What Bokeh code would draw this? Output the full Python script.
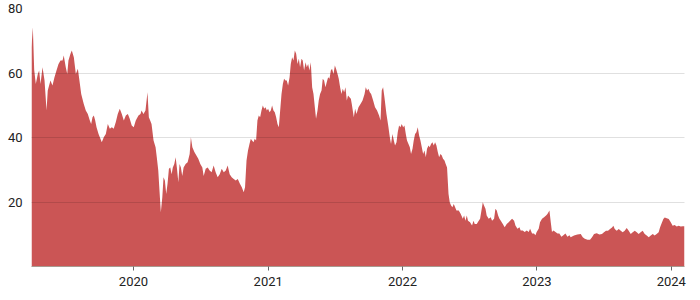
from datetime import datetime
from bokeh.plotting import figure
from bokeh.models import ColumnDataSource, FixedTicker, DatetimeTickFormatter, Range1d
from bokeh.embed import file_html
from bokeh.resources import INLINE

# Dates as decimal years, values as prices
years = [
    2019.241, 2019.251, 2019.261, 2019.273, 2019.288, 2019.298, 2019.308, 2019.323, 2019.338, 2019.353,
    2019.362, 2019.382, 2019.397, 2019.412, 2019.427, 2019.442, 2019.457, 2019.472, 2019.481, 2019.496,
    2019.507, 2019.516, 2019.531, 2019.541, 2019.556, 2019.571, 2019.586, 2019.596, 2019.611, 2019.630,
    2019.645, 2019.660, 2019.675, 2019.685, 2019.695, 2019.705, 2019.715, 2019.725, 2019.740, 2019.754,
    2019.764, 2019.779, 2019.794, 2019.809, 2019.824, 2019.839, 2019.853, 2019.868, 2019.883, 2019.898,
    2019.913, 2019.928, 2019.943, 2019.958, 2019.972, 2019.987, 2020.002, 2020.017, 2020.037, 2020.052,
    2020.060, 2020.074, 2020.089, 2020.104, 2020.114, 2020.124, 2020.134, 2020.149, 2020.164, 2020.173,
    2020.184, 2020.193, 2020.203, 2020.214, 2020.223, 2020.233, 2020.243, 2020.253, 2020.263, 2020.273,
    2020.283, 2020.292, 2020.303, 2020.313, 2020.322, 2020.333, 2020.342, 2020.352, 2020.362, 2020.372,
    2020.387, 2020.402, 2020.417, 2020.426, 2020.437, 2020.452, 2020.467, 2020.481, 2020.496, 2020.511,
    2020.521, 2020.536, 2020.551, 2020.565, 2020.580, 2020.595, 2020.610, 2020.625, 2020.640, 2020.655,
    2020.670, 2020.685, 2020.699, 2020.714, 2020.729, 2020.744, 2020.759, 2020.774, 2020.789, 2020.804,
    2020.818, 2020.828, 2020.839, 2020.850, 2020.861, 2020.871, 2020.880, 2020.891, 2020.900, 2020.910,
    2020.920, 2020.930, 2020.940, 2020.950, 2020.960, 2020.970, 2020.980, 2020.990, 2020.999, 2021.010,
    2021.019, 2021.029, 2021.039, 2021.049, 2021.059, 2021.069, 2021.079, 2021.089, 2021.099, 2021.109,
    2021.118, 2021.129, 2021.138, 2021.148, 2021.159, 2021.168, 2021.178, 2021.188, 2021.198, 2021.208,
    2021.218, 2021.228, 2021.237, 2021.248, 2021.257, 2021.267, 2021.278, 2021.287, 2021.297, 2021.307,
    2021.317, 2021.327, 2021.337, 2021.347, 2021.356, 2021.367, 2021.376, 2021.386, 2021.397, 2021.406,
    2021.416, 2021.426, 2021.436, 2021.446, 2021.456, 2021.466, 2021.475, 2021.486, 2021.496, 2021.505,
    2021.516, 2021.525, 2021.535, 2021.545, 2021.555, 2021.565, 2021.575, 2021.585, 2021.594, 2021.605,
    2021.615, 2021.622, 2021.637, 2021.647, 2021.657, 2021.672, 2021.687, 2021.702, 2021.717, 2021.726,
    2021.736, 2021.746, 2021.756, 2021.766, 2021.781, 2021.795, 2021.810, 2021.825, 2021.836, 2021.845,
    2021.855, 2021.865, 2021.880, 2021.895, 2021.905, 2021.914, 2021.925, 2021.935, 2021.944, 2021.955,
    2021.964, 2021.974, 2021.984, 2021.994, 2022.004, 2022.014, 2022.024, 2022.033, 2022.044, 2022.054,
    2022.063, 2022.074, 2022.083, 2022.093, 2022.103, 2022.113, 2022.123, 2022.133, 2022.143, 2022.153,
    2022.163, 2022.173, 2022.182, 2022.193, 2022.202, 2022.212, 2022.222, 2022.232, 2022.242, 2022.252,
    2022.262, 2022.272, 2022.282, 2022.292, 2022.301, 2022.312, 2022.321, 2022.331, 2022.342, 2022.351,
    2022.361, 2022.371, 2022.381, 2022.391, 2022.401, 2022.418, 2022.433, 2022.448, 2022.458, 2022.468,
    2022.478, 2022.487, 2022.502, 2022.517, 2022.528, 2022.537, 2022.552, 2022.567, 2022.577, 2022.587,
    2022.597, 2022.606, 2022.617, 2022.626, 2022.641, 2022.656, 2022.666, 2022.681, 2022.691, 2022.701,
    2022.711, 2022.721, 2022.731, 2022.746, 2022.760, 2022.775, 2022.790, 2022.800, 2022.815, 2022.830,
    2022.840, 2022.855, 2022.870, 2022.879, 2022.894, 2022.909, 2022.924, 2022.939, 2022.949, 2022.964,
    2022.978, 2022.989, 2022.998, 2023.013, 2023.023, 2023.038, 2023.053, 2023.068, 2023.078, 2023.093,
    2023.103, 2023.112, 2023.123, 2023.138, 2023.153, 2023.167, 2023.182, 2023.197, 2023.212, 2023.227,
    2023.242, 2023.251, 2023.276, 2023.301, 2023.326, 2023.341, 2023.356, 2023.376, 2023.395, 2023.410,
    2023.425, 2023.445, 2023.465, 2023.484, 2023.499, 2023.514, 2023.529, 2023.544, 2023.559, 2023.569,
    2023.579, 2023.594, 2023.609, 2023.624, 2023.638, 2023.653, 2023.668, 2023.683, 2023.698, 2023.713,
    2023.728, 2023.743, 2023.757, 2023.772, 2023.787, 2023.802, 2023.817, 2023.832, 2023.847, 2023.862,
    2023.876, 2023.891, 2023.906, 2023.916, 2023.926, 2023.941, 2023.951, 2023.966, 2023.981, 2023.996,
    2024.010, 2024.025, 2024.040, 2024.055, 2024.070, 2024.085, 2024.098,
]

prices = [
    68.0, 74.2, 61.0, 56.6, 59.7, 60.8, 56.6, 61.8, 57.7, 48.4,
    54.6, 57.7, 56.1, 58.7, 60.8, 62.8, 63.9, 63.9, 65.4, 61.8,
    59.7, 63.9, 66.0, 67.0, 64.9, 59.7, 61.3, 58.2, 53.5, 50.4,
    48.4, 47.3, 45.3, 44.2, 46.3, 46.8, 45.3, 43.2, 41.1, 39.6,
    38.5, 40.1, 41.1, 44.2, 42.7, 43.2, 42.7, 44.7, 47.3, 48.9,
    47.3, 45.3, 46.8, 47.3, 45.8, 43.7, 43.2, 45.3, 46.8, 47.3,
    48.4, 47.3, 48.4, 54.0, 46.3, 45.3, 44.2, 39.1, 37.0, 33.9,
    29.8, 23.6, 16.8, 21.5, 27.7, 26.7, 22.5, 25.7, 30.3, 30.7,
    28.6, 30.7, 31.8, 33.9, 30.7, 26.1, 31.8, 30.7, 28.1, 30.7,
    31.8, 32.3, 34.9, 40.1, 37.0, 35.5, 34.4, 33.4, 31.8, 30.7,
    28.1, 30.3, 30.7, 29.8, 29.2, 31.3, 29.2, 27.7, 28.6, 30.3,
    29.2, 29.8, 31.3, 28.6, 27.7, 27.1, 26.7, 27.1, 25.7, 24.6,
    23.0, 24.6, 32.9, 36.0, 38.0, 39.6, 39.1, 38.5, 39.6, 39.1,
    45.3, 46.8, 46.3, 48.4, 49.9, 48.9, 49.4, 48.4, 48.9, 47.8,
    48.4, 49.9, 48.4, 47.8, 46.3, 44.2, 43.2, 48.4, 53.5, 56.6,
    58.2, 57.7, 57.7, 56.1, 58.7, 62.8, 64.9, 63.9, 67.0, 66.0,
    62.8, 64.4, 61.8, 64.4, 63.9, 60.8, 63.3, 61.8, 62.8, 60.8,
    63.3, 55.6, 53.5, 49.4, 45.8, 48.4, 51.5, 53.5, 54.6, 58.2,
    57.7, 55.6, 57.2, 58.7, 58.2, 60.8, 61.3, 59.7, 62.3, 61.3,
    59.7, 58.2, 55.6, 53.5, 55.1, 54.0, 55.6, 51.5, 53.0, 52.5,
    52.0, 50.4, 46.3, 48.9, 47.3, 49.4, 50.4, 51.5, 53.5, 55.6,
    54.6, 55.1, 54.0, 53.5, 51.5, 49.4, 48.4, 46.8, 45.3, 54.6,
    55.6, 52.5, 47.3, 43.2, 40.1, 38.0, 41.1, 39.1, 37.5, 38.5,
    41.6, 43.7, 43.2, 44.2, 43.2, 43.7, 41.1, 39.1, 38.0, 37.0,
    34.9, 36.5, 39.1, 41.1, 41.6, 43.2, 40.6, 39.1, 37.0, 34.9,
    36.0, 33.9, 36.5, 37.5, 37.0, 38.0, 38.5, 37.5, 38.5, 37.5,
    35.5, 33.9, 34.9, 34.4, 33.4, 32.9, 31.8, 30.7, 22.5, 19.9,
    18.9, 18.4, 19.4, 18.4, 17.4, 17.4, 16.3, 14.8, 15.8, 14.2,
    15.8, 14.2, 13.7, 12.7, 14.2, 13.2, 13.2, 14.2, 14.8, 17.4,
    19.9, 18.9, 17.9, 15.8, 14.8, 15.3, 14.2, 14.8, 17.9, 17.4,
    15.8, 14.8, 14.2, 13.2, 12.2, 13.2, 13.7, 14.2, 14.8, 14.2,
    12.7, 11.7, 12.2, 11.2, 11.2, 10.7, 11.2, 10.7, 11.7, 10.2,
    10.2, 9.7, 10.7, 11.7, 13.7, 14.8, 15.3, 15.8, 16.3, 17.4,
    13.7, 10.7, 11.2, 10.7, 10.2, 10.2, 9.2, 9.7, 10.2, 9.2,
    9.7, 9.1, 9.6, 9.9, 10.1, 9.1, 8.6, 8.3, 8.3, 9.1,
    10.1, 10.3, 9.9, 10.1, 10.6, 11.1, 11.1, 11.6, 12.1, 12.6,
    11.6, 11.1, 11.6, 11.1, 10.6, 11.1, 11.9, 11.1, 10.1, 10.6,
    11.1, 10.6, 10.1, 10.6, 11.1, 10.1, 9.6, 9.1, 9.6, 10.1,
    9.6, 10.1, 10.6, 12.1, 13.2, 14.7, 15.2, 15.0, 14.7, 13.7,
    12.6, 12.9, 12.4, 12.6, 12.4, 12.5, 12.5,
]

y_ticks = [20, 40, 60, 80]
x_tick_years = [2020, 2021, 2022, 2023, 2024]


def to_dt(v):
    y = int(v)
    start = datetime(y, 1, 1)
    end = datetime(y + 1, 1, 1)
    return start + (end - start) * (v - y)


dates = [to_dt(v) for v in years]
source = ColumnDataSource(data=dict(date=dates, price=prices))

p = figure(
    width=700, height=300, x_axis_type="datetime",
    output_backend="svg", toolbar_location=None,
    x_range=Range1d(dates[0], dates[-1]), y_range=Range1d(0, 80),
    min_border_left=31, min_border_right=16, min_border_top=8, min_border_bottom=34,
)
p.outline_line_color = None

p.varea(x="date", y1=0, y2="price", source=source, fill_color="#cb5555", fill_alpha=1.0)

p.xgrid.grid_line_color = None
p.ygrid.grid_line_color = "black"
p.ygrid.grid_line_alpha = 0.12
p.ygrid.level = "overlay"
p.ygrid.ticker = FixedTicker(ticks=y_ticks)

p.yaxis.ticker = FixedTicker(ticks=y_ticks)
p.yaxis.axis_line_color = None
p.yaxis.major_tick_line_color = None
p.yaxis.minor_tick_line_color = None
p.yaxis.major_tick_in = 0
p.yaxis.major_tick_out = 0
p.yaxis.minor_tick_in = 0
p.yaxis.minor_tick_out = 0
p.yaxis.major_label_standoff = 9

tick_ms = [datetime(y, 1, 1).timestamp() * 1000 for y in x_tick_years]
p.xaxis.ticker = FixedTicker(ticks=tick_ms)
p.xaxis.formatter = DatetimeTickFormatter(
    years="%Y", months="%Y", days="%Y", hours="%Y", minutes="%Y", seconds="%Y",
    milliseconds="%Y", microseconds="%Y", hourmin="%Y", minsec="%Y",
)
p.xaxis.axis_line_color = "#a89a90"
p.xaxis.major_tick_line_color = "#666666"
p.xaxis.major_tick_in = 0
p.xaxis.major_tick_out = 4
p.xaxis.minor_tick_line_color = None
p.xaxis.minor_tick_in = 0
p.xaxis.minor_tick_out = 0
p.xaxis.major_label_standoff = 6

for ax in (p.xaxis, p.yaxis):
    ax.major_label_text_font = "Roboto"
    ax.major_label_text_font_size = "13px"
    ax.major_label_text_color = "#222222"

open("out.html", "w").write(file_html(p, INLINE))
